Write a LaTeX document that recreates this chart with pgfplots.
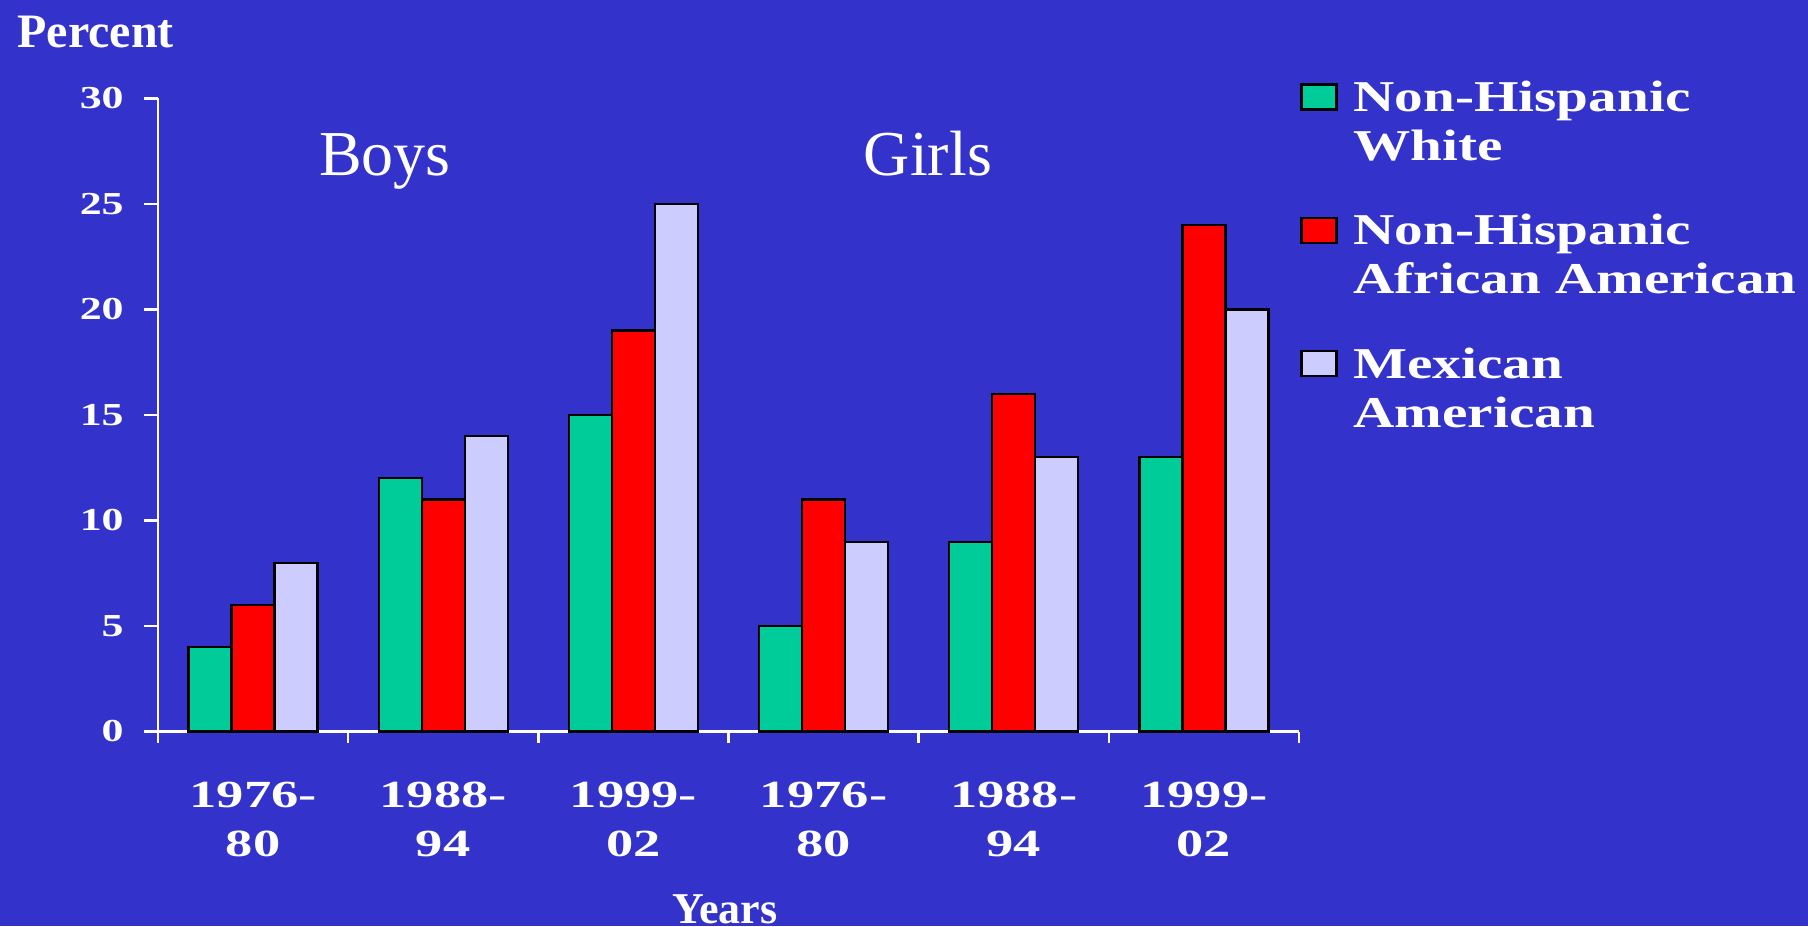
\documentclass[border=0pt]{standalone}
\usepackage{pgfplots}
\pgfplotsset{compat=1.18}
\usepackage{fontspec}
\setmainfont{Liberation Serif}
% chart text is set a little wider than the slide text
\newfontfamily\ytickfont[FakeStretch=1.37]{Liberation Serif}
\newfontfamily\xtickfont[FakeStretch=1.42]{Liberation Serif}
\newfontfamily\legfont[FakeStretch=1.30]{Liberation Serif}

\definecolor{slide}{HTML}{3333CC}
\definecolor{nhwhite}{HTML}{00CC99}
\definecolor{nhafam}{HTML}{FF0000}
\definecolor{mexam}{HTML}{CCCCFF}

\pgfplotsset{
  legbox/.style={legend image code/.code={%
      \draw[##1, line width=1.1pt] (0pt,1pt) rectangle (17.5pt,13.5pt);}},
}

\begin{document}
\begin{tikzpicture}
\fill[slide] (-79pt,-97.25pt) rectangle (825pt,365.75pt);
\path[use as bounding box] (-79pt,-97.25pt) rectangle (825pt,365.75pt);
\begin{axis}[
  at={(0pt,0pt)}, anchor=south west,
  scale only axis, width=570.5pt, height=316.5pt,
  ybar=0pt, bar width=21.5pt,
  xmin=-0.5, xmax=5.5, ymin=0, ymax=30,
  axis x line*=bottom, axis y line*=left,
  axis line style={white, line width=1.2pt},
  tick align=outside,
  major tick length=7pt, minor tick length=5.5pt,
  xtick={0,...,5},
  xticklabels={{1976-\\80},{1988-\\94},{1999-\\02},{1976-\\80},{1988-\\94},{1999-\\02}},
  major x tick style={draw=none},
  minor xtick={-0.5,0.5,...,5.5},
  minor x tick style={white, line width=1.2pt},
  ytick={0,5,...,30},
  y tick style={white, line width=1.2pt},
  /pgf/number format/assume math mode=true,
  yticklabel style={font=\ytickfont\bfseries\fontsize{16}{19}\selectfont, text=white, inner sep=0pt, xshift=-10pt},
  xticklabel style={font=\xtickfont\bfseries\fontsize{19.2}{24.5}\selectfont, text=white, align=center, inner sep=0pt, yshift=-18pt},
  legend style={at={(1.0008,1.0344)}, anchor=north west, draw=none, fill=none,
    text=white, inner sep=0pt, row sep=48pt, column sep=8pt,
    font=\legfont\bfseries\fontsize{22}{24.5}\selectfont,
    nodes={inner sep=0pt}, cells={anchor=base west}},
  clip=false,
]
\addplot[legbox, fill=nhwhite, draw=black, line width=1.1pt]
  coordinates {(0,4) (1,12) (2,15) (3,5) (4,9) (5,13)};
\addlegendentry{\begin{tabular}[t]{@{}l@{}}Non-Hispanic\\White\end{tabular}}
\addplot[legbox, fill=nhafam, draw=black, line width=1.1pt]
  coordinates {(0,6) (1,11) (2,19) (3,11) (4,16) (5,24)};
\addlegendentry{\begin{tabular}[t]{@{}l@{}}Non-Hispanic\\African American\end{tabular}}
\addplot[legbox, fill=mexam, draw=black, line width=1.1pt]
  coordinates {(0,8) (1,14) (2,25) (3,9) (4,13) (5,20)};
\addlegendentry{\begin{tabular}[t]{@{}l@{}}Mexican\\American\end{tabular}}

\node[anchor=base, text=white, font=\fontsize{32}{38}\selectfont] at (axis cs:0.694,26.33) {Boys};
\node[anchor=base, text=white, font=\fontsize{32}{38}\selectfont] at (axis cs:3.549,26.33) {Girls};
\end{axis}
\node[anchor=base west, inner sep=0pt, text=white, font=\bfseries\fontsize{24}{29}\selectfont] at (-70.5pt,341.75pt) {Percent};
\node[anchor=base, inner sep=0pt, text=white, font=\bfseries\fontsize{22}{26}\selectfont] at (283.5pt,-95.75pt) {Years};
\end{tikzpicture}
\end{document}
